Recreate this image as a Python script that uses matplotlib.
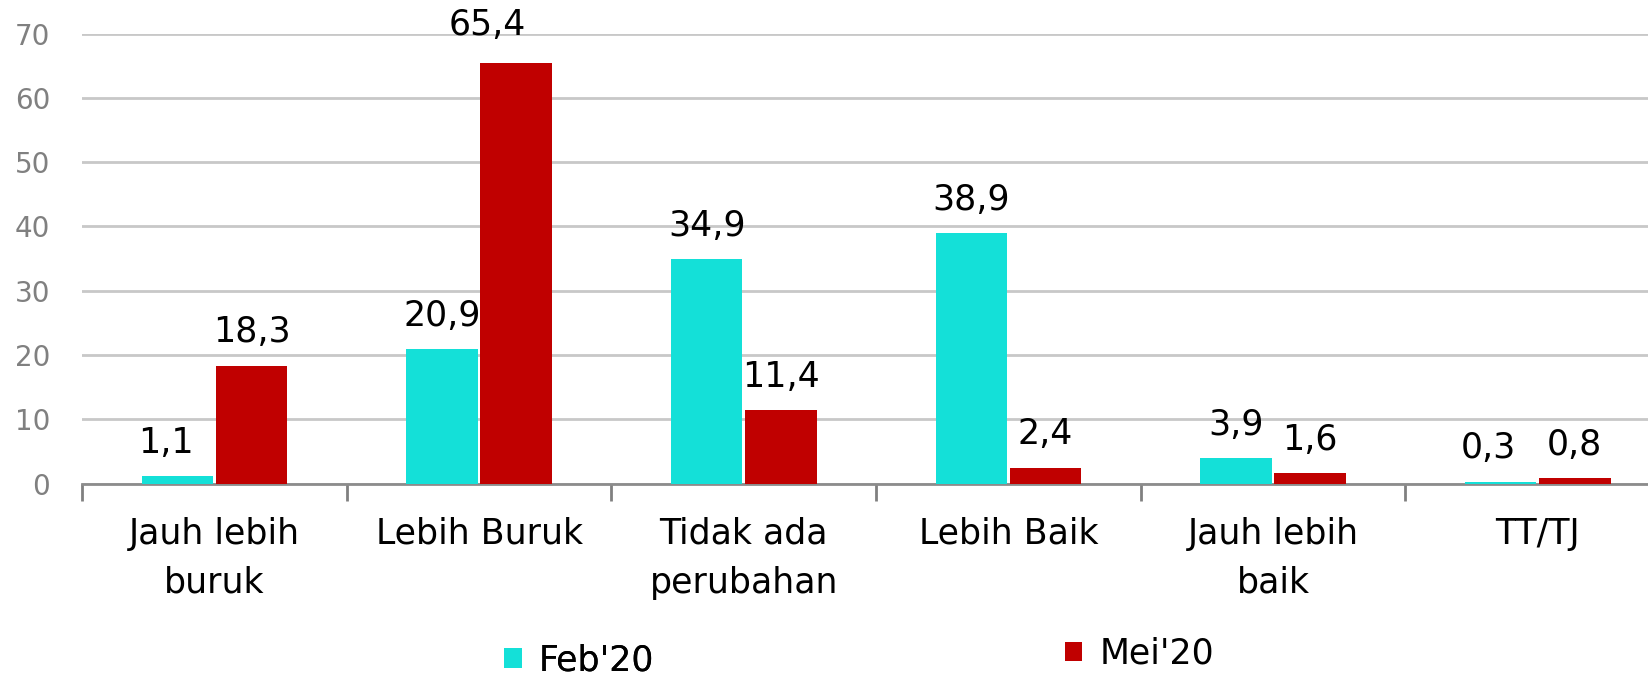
import numpy as np
import matplotlib
matplotlib.use('Agg')
from matplotlib import pyplot as plt

categories = ['Jauh lebih\nburuk', 'Lebih Buruk', 'Tidak ada\nperubahan',
              'Lebih Baik', 'Jauh lebih\nbaik', 'TT/TJ']
feb = [1.1, 20.9, 34.9, 38.9, 3.9, 0.3]
mei = [18.3, 65.4, 11.4, 2.4, 1.6, 0.8]
feb_labels = ['1,1', '20,9', '34,9', '38,9', '3,9', '0,3']
mei_labels = ['18,3', '65,4', '11,4', '2,4', '1,6', '0,8']

cyan = '#14e0d8'
red = '#c00000'

plt.rcParams['font.family'] = ['DejaVu Sans']

fig = plt.figure(figsize=(16.48, 6.81), dpi=100)
ax = fig.add_axes([0.0498, 0.29, 0.9636, 0.6607])

x = np.arange(len(categories))
w = 0.27
b1 = ax.bar(x - 0.14, feb, w, color=cyan, label="Feb'20", zorder=3)
b2 = ax.bar(x + 0.14, mei, w, color=red, label="Mei'20", zorder=3)

# a few labels are nudged sideways in the original
nudge = {(0, 0): (-8, 12), (0, 5): (-9, 12), (1, 1): (-21, 15)}

for k, (bars, labs) in enumerate(((b1, feb_labels), (b2, mei_labels))):
    for i, (r, t) in enumerate(zip(bars, labs)):
        ax.annotate(t, (r.get_x() + r.get_width() / 2, r.get_height()),
                    xytext=nudge.get((k, i), (0, 12)), textcoords='offset points',
                    ha='center', va='bottom', fontsize=25, color='black')

ax.set_xlim(-0.5, 5.5)
ax.set_ylim(0, 70)
ax.set_yticks(range(0, 80, 10))
ax.yaxis.grid(True, color='#c8c8c8', linewidth=2, zorder=0)
ax.tick_params(axis='y', length=0, labelsize=20, labelcolor='#808080', pad=23)

ax.set_xticks(x)
ax.set_xticklabels(categories, fontsize=25, linespacing=1.55)
ax.set_xticks(np.arange(-0.5, 5.6, 1), minor=True)
ax.tick_params(axis='x', which='major', length=0, pad=24)
ax.tick_params(axis='x', which='minor', length=12, width=2, color='#808080')

for s in ('top', 'right', 'left'):
    ax.spines[s].set_visible(False)
ax.spines['bottom'].set_color('#8c8c8c')
ax.spines['bottom'].set_linewidth(2)

leg1 = fig.legend(handles=[b1], loc='center left', bbox_to_anchor=(0.287, 0.03),
                  frameon=False, fontsize=25, handlelength=0.5, handleheight=0.5,
                  handletextpad=0.5)
fig.add_artist(leg1)
fig.legend(handles=[b2], loc='center left', bbox_to_anchor=(0.627, 0.04),
           frameon=False, fontsize=25, handlelength=0.5, handleheight=0.5,
           handletextpad=0.5)

fig.savefig('out.png', dpi=100)
